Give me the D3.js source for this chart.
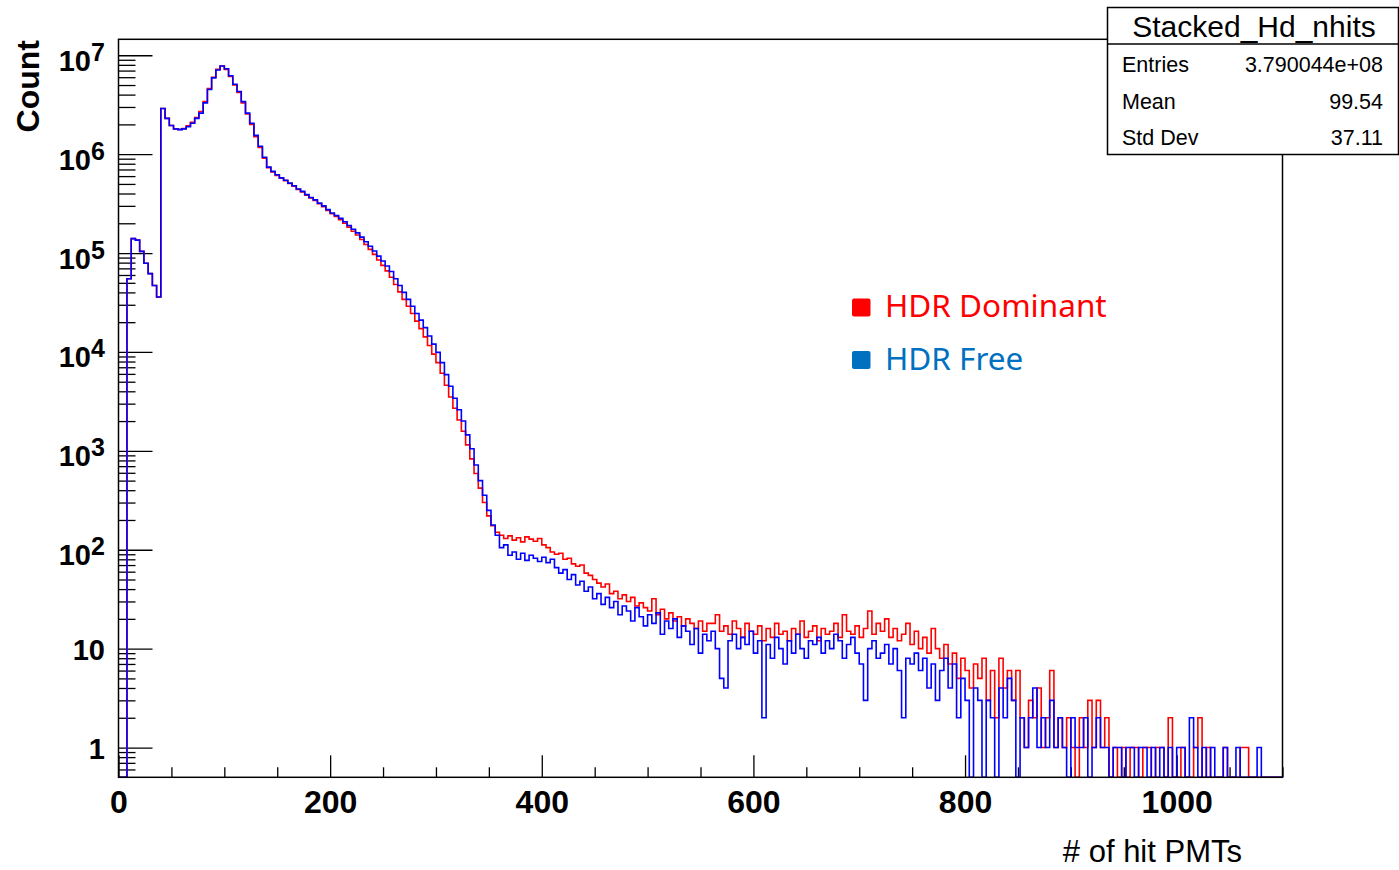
<!DOCTYPE html>
<html lang="en">
<head>
<meta charset="UTF-8">
<title>Stacked_Hd_nhits</title>
<script src="https://d3js.org/d3.v7.min.js"></script>
<style>
  body { margin: 0; background: #fff; }
  svg { display: block; }
  .tick text { font-family: "Liberation Sans", Arial, sans-serif; font-weight: bold; }
</style>
</head>
<body>
<svg id="chart" width="1399" height="870"></svg>
<script>
// histogram bins: width 4, first bin starts at 0 (# of hit PMTs)
const binWidth = 4;
const xRange = [0, 1100];

// HDR Dominant (red)
const domCounts = [
  0, 0, 5.5e4, 1.4e5, 1.35e5, 1.04e5, 7.9e4, 6.2e4, 4.7e4, 3.6e4,
  2.9e6, 2.3e6, 1.95e6, 1.8e6, 1.78e6, 1.82e6, 1.93e6, 2.1e6, 2.35e6, 2.7e6,
  3.4e6, 4.6e6, 6.0e6, 7.2e6, 7.8e6, 7.2e6, 6.1e6, 5.0e6, 4.2e6, 3.3e6,
  2.55e6, 2.0e6, 1.5e6, 1.17e6, 9.1e5, 7.3e5, 6.6e5, 6.1e5, 5.7e5, 5.4e5,
  5.05e5, 4.75e5, 4.4e5, 4.15e5, 3.85e5, 3.6e5, 3.4e5, 3.15e5, 2.95e5, 2.7e5,
  2.5e5, 2.35e5, 2.18e5, 2.0e5, 1.83e5, 1.66e5, 1.52e5, 1.37e5, 1.22e5, 1.09e5,
  9.7e4, 8.5e4, 7.5e4, 6.6e4, 5.7e4, 4.8e4, 4.05e4, 3.4e4, 2.9e4, 2.45e4,
  2.05e4, 1.72e4, 1.42e4, 1.16e4, 9500, 7800, 6100, 4600, 3500, 2700,
  2050, 1580, 1150, 830, 590, 420, 300, 220, 175, 150,
  140, 130, 138, 125, 132, 120, 135, 128, 122, 130,
  112, 105, 95, 90, 92, 80, 82, 72, 68, 70,
  58, 55, 50, 46, 42, 45, 36, 38, 32, 35,
  30, 33, 27, 29, 26, 24, 32, 22, 25, 20,
  23, 19, 21, 17, 20, 18, 16, 19, 15, 18,
  18, 22, 15, 17, 14, 19, 16, 13, 18, 15,
  14, 17, 12, 16, 13, 18, 14, 15, 12, 16,
  14, 19, 13, 15, 17, 12, 16, 14, 15, 18,
  13, 22, 15, 14, 17, 13, 16, 24, 14, 18,
  15, 20, 13, 16, 12, 14, 18, 11, 15, 10,
  13, 9, 16, 10, 8, 11, 7, 9, 5, 8,
  6, 4, 7, 5, 8, 3, 6, 2, 8, 4,
  6, 3, 6, 2, 1, 3, 2, 4, 1, 2,
  6, 1, 2, 1, 2, 1, 0, 2, 1, 3,
  1, 3, 1, 2, 0, 1, 0, 1, 0, 1,
  1, 0, 1, 1, 0, 1, 1, 0, 2, 0,
  0, 1, 0, 0, 1, 2, 0, 1, 0, 0,
  0, 1, 0, 0, 0, 1, 1, 0
];

// HDR Free (blue)
const freeCounts = [
  0, 0, 5.5e4, 1.4e5, 1.35e5, 1.04e5, 7.9e4, 6.2e4, 4.7e4, 3.6e4,
  2.9e6, 2.3e6, 1.95e6, 1.8e6, 1.77e6, 1.8e6, 1.9e6, 2.05e6, 2.3e6, 2.6e6,
  3.3e6, 4.5e6, 5.9e6, 7.1e6, 7.8e6, 7.3e6, 6.2e6, 5.1e6, 4.3e6, 3.4e6,
  2.6e6, 2.05e6, 1.55e6, 1.2e6, 9.3e5, 7.4e5, 6.7e5, 6.2e5, 5.75e5, 5.45e5,
  5.1e5, 4.8e5, 4.45e5, 4.2e5, 3.9e5, 3.65e5, 3.45e5, 3.2e5, 3.0e5, 2.75e5,
  2.54e5, 2.4e5, 2.24e5, 2.07e5, 1.9e5, 1.74e5, 1.6e5, 1.45e5, 1.3e5, 1.17e5,
  1.05e5, 9.3e4, 8.3e4, 7.4e4, 6.5e4, 5.5e4, 4.7e4, 4.0e4, 3.4e4, 2.9e4,
  2.45e4, 2.1e4, 1.76e4, 1.45e4, 1.2e4, 9900, 7800, 5900, 4500, 3400,
  2600, 2000, 1450, 1050, 720, 500, 355, 250, 178, 140,
  105, 112, 88, 95, 80, 92, 78, 88, 82, 76,
  84, 74, 80, 66, 58, 63, 50, 56, 44, 48,
  38, 42, 32, 36, 28, 33, 26, 30, 22, 27,
  24, 19, 26, 21, 17, 22, 18, 23, 14, 19,
  16, 20, 13, 17, 15, 11, 16, 9, 14, 12,
  15, 10, 5, 4, 12, 14, 10, 13, 11, 15,
  9, 12, 2, 11, 8, 13, 10, 7, 12, 9,
  14, 10, 8, 12, 11, 13, 9, 12, 10, 14,
  12, 8, 11, 13, 9, 7, 3, 10, 12, 8,
  9, 11, 7, 10, 6, 2, 8, 7, 9, 6,
  8, 4, 7, 3, 6, 8, 4, 7, 2, 5,
  3, 0, 4, 3, 0, 3, 2, 0, 4, 2,
  5, 3, 0, 2, 1, 2, 4, 1, 2, 1,
  3, 1, 2, 1, 0, 2, 1, 1, 2, 0,
  1, 2, 1, 1, 0, 1, 1, 0, 1, 1,
  0, 1, 1, 0, 1, 0, 1, 0, 1, 0,
  1, 1, 0, 2, 1, 0, 1, 0, 1, 0,
  0, 1, 0, 0, 1, 0, 0, 0, 0, 1
];

const xMajor = [0, 200, 400, 600, 800, 1000];
const yExponents = [0, 1, 2, 3, 4, 5, 6, 7];

const statsTitle = "Stacked_Hd_nhits";
const statsRows = [["Entries", "3.790044e+08"], ["Mean", "99.54"], ["Std Dev", "37.11"]];

const legendItems = [
  { label: "HDR Dominant", color: "#ff0000" },
  { label: "HDR Free", color: "#0070c0" }
];

const svg = d3.select("#chart");
const frame = { left: 118.5, right: 1282.5, top: 39.3, bottom: 777.3 };

const x = d3.scaleLinear().domain(xRange).range([frame.left, frame.right]);
const y = d3.scaleLog().domain([0.5, 1.45e7]).range([frame.bottom, frame.top]);

// axes (ticks pointing inward)
const xMinor = d3.range(0, 1101, 50).filter(v => v % 200 !== 0);
svg.append("g")
  .attr("transform", `translate(0,${frame.bottom})`)
  .call(d3.axisBottom(x).tickValues(xMinor).tickSize(-10).tickFormat(""))
  .call(g => g.select(".domain").remove());
svg.append("g")
  .attr("transform", `translate(0,${frame.bottom})`)
  .call(d3.axisBottom(x).tickValues(xMajor).tickSize(-22).tickPadding(12.5).tickFormat(d3.format("d")))
  .call(g => g.select(".domain").remove())
  .call(g => g.selectAll("text").attr("font-size", 32).attr("fill", "#000"));

const yMajor = yExponents.map(e => Math.pow(10, e));
const yMinor = [];
for (let e = -1; e <= 7; e++) {
  for (let k = 2; k <= 9; k++) {
    const v = k * Math.pow(10, e);
    if (v > 0.5 && v < 1.45e7) yMinor.push(v);
  }
}
svg.append("g")
  .attr("transform", `translate(${frame.left},0)`)
  .call(d3.axisLeft(y).tickValues(yMinor).tickSize(-17).tickFormat(""))
  .call(g => g.select(".domain").remove());
svg.append("g")
  .attr("transform", `translate(${frame.left},0)`)
  .call(d3.axisLeft(y).tickValues(yMajor).tickSize(-34).tickFormat(""))
  .call(g => g.select(".domain").remove());
svg.selectAll(".tick line").attr("stroke", "#000").attr("stroke-width", 1.3);

// y labels: 1, 10, 10^2 ... 10^7
const yLab = svg.append("g")
  .attr("font-family", "'Liberation Sans', Arial, sans-serif")
  .attr("font-weight", "bold")
  .attr("fill", "#000");
yExponents.forEach(e => {
  const ty = y(Math.pow(10, e));
  if (e < 2) {
    yLab.append("text").attr("x", 105).attr("y", ty + 11.5)
      .attr("text-anchor", "end").attr("font-size", 29).text(e === 0 ? "1" : "10");
  } else {
    yLab.append("text").attr("x", 91).attr("y", ty + 15.5)
      .attr("text-anchor", "end").attr("font-size", 29).text("10");
    yLab.append("text").attr("x", 91).attr("y", ty + 5.5)
      .attr("text-anchor", "start").attr("font-size", 25).text(e);
  }
});

// histograms as step lines (zero bins drop to the frame bottom)
function histPath(counts) {
  const pts = [[xRange[0], 0]];
  counts.forEach((c, i) => pts.push([i * binWidth, c]));
  pts.push([counts.length * binWidth, 0]);
  pts.push([xRange[1], 0]);
  return d3.line()
    .x(d => x(d[0]))
    .y(d => d[1] > 0 ? y(d[1]) : frame.bottom)
    .curve(d3.curveStepAfter)(pts);
}

svg.append("path").attr("d", histPath(domCounts))
  .attr("fill", "none").attr("stroke", "#ff0000").attr("stroke-width", 1.6);
svg.append("path").attr("d", histPath(freeCounts))
  .attr("fill", "none").attr("stroke", "#0000ff").attr("stroke-width", 1.6);

// frame
svg.append("rect")
  .attr("x", frame.left).attr("y", frame.top)
  .attr("width", frame.right - frame.left).attr("height", frame.bottom - frame.top)
  .attr("fill", "none").attr("stroke", "#000").attr("stroke-width", 1.5);

// axis titles
svg.append("text")
  .attr("transform", "translate(39,40) rotate(-90)")
  .attr("text-anchor", "end")
  .attr("font-family", "'Liberation Sans', Arial, sans-serif")
  .attr("font-weight", "bold").attr("font-size", 32)
  .text("Count");
svg.append("text")
  .attr("x", 1242).attr("y", 862)
  .attr("text-anchor", "end")
  .attr("font-family", "'Liberation Sans', Arial, sans-serif")
  .attr("font-size", 31)
  .text("# of hit PMTs");

// stats box
const stats = svg.append("g").attr("font-family", "'Liberation Sans', Arial, sans-serif");
stats.append("rect").attr("x", 1107.5).attr("y", 7.5).attr("width", 291).attr("height", 147)
  .attr("fill", "#fff").attr("stroke", "#000").attr("stroke-width", 1.5);
stats.append("line").attr("x1", 1107.5).attr("x2", 1398.5).attr("y1", 44).attr("y2", 44)
  .attr("stroke", "#000").attr("stroke-width", 1.5);
stats.append("text").attr("x", 1254).attr("y", 37).attr("text-anchor", "middle")
  .attr("font-size", 30).text(statsTitle);
statsRows.forEach((r, i) => {
  const by = 72 + i * 36.6;
  stats.append("text").attr("x", 1122).attr("y", by).attr("font-size", 21.5).text(r[0]);
  stats.append("text").attr("x", 1383).attr("y", by).attr("text-anchor", "end")
    .attr("font-size", 21.5).text(r[1]);
});

// legend
legendItems.forEach((d, i) => {
  const ly = 317 + i * 52.5;
  svg.append("rect").attr("x", 852).attr("y", ly - 18.5).attr("width", 18.5).attr("height", 18)
    .attr("rx", 2).attr("fill", d.color);
  svg.append("text").attr("x", 885).attr("y", ly)
    .attr("font-family", "'Noto Sans', 'Open Sans', sans-serif")
    .attr("font-size", 31.5).attr("fill", d.color).text(d.label);
});
</script>
</body>
</html>
